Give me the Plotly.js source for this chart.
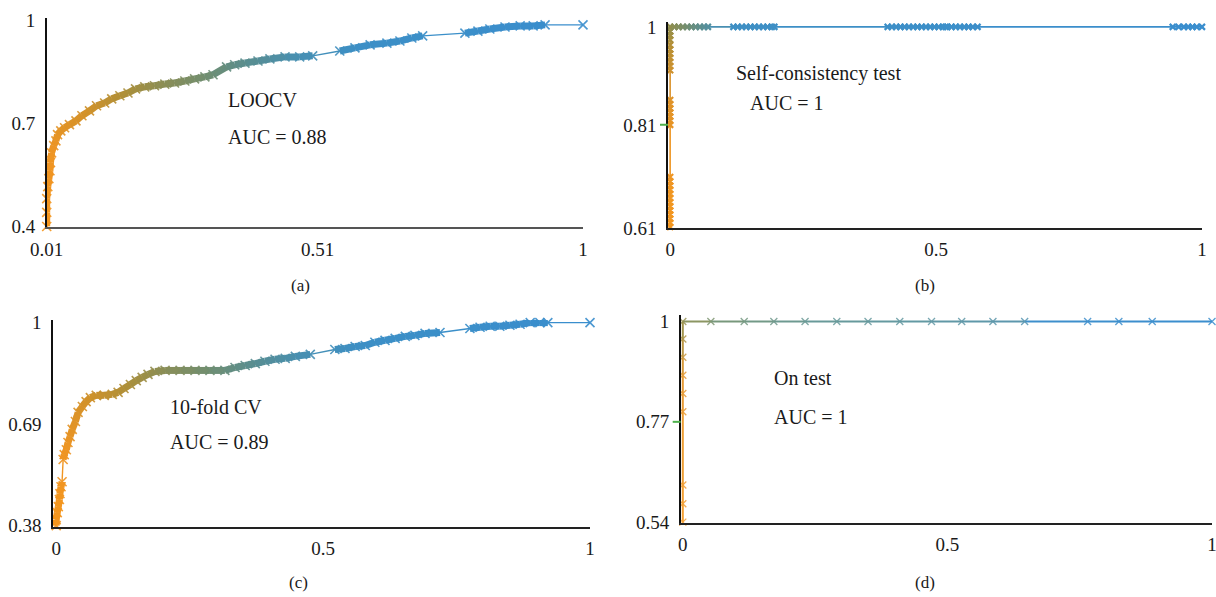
<!DOCTYPE html>
<html><head><meta charset="utf-8">
<script src="https://cdn.plot.ly/plotly-3.0.1.min.js"></script>
<style>html,body{margin:0;padding:0;background:#fff}#chart{width:1216px;height:597px}</style>
</head><body><div id="chart"></div>
<script>
// ---------- DATA ----------
// (a) LOOCV
const aFPR = [0.010,0.010,0.010,0.012,0.014,0.016,0.017,0.019,0.023,0.027,0.030,0.036,0.043,0.052,0.064,0.075,0.089,0.102,0.117,0.130,0.145,0.160,0.174,0.191,0.209,0.228,0.246,0.265,0.283,0.302,0.317,0.342,0.357,0.376,0.400,0.422,0.450,0.477,0.501,0.551,0.579,0.607,0.638,0.662,0.684,0.704,0.782,0.806,0.828,0.856,0.884,0.908,0.930,1.000];
const aTPR = [0.400,0.441,0.481,0.516,0.539,0.562,0.586,0.614,0.635,0.649,0.667,0.678,0.687,0.696,0.707,0.722,0.736,0.751,0.759,0.771,0.780,0.788,0.800,0.806,0.809,0.814,0.817,0.823,0.829,0.835,0.841,0.864,0.870,0.875,0.881,0.887,0.893,0.893,0.896,0.910,0.919,0.928,0.933,0.939,0.948,0.954,0.962,0.968,0.974,0.980,0.983,0.983,0.986,0.986];
// (b) Self-consistency test
const bFPR = [0,0,0,0,0,0,0,0,0,0,0,0,0, 0,0,0,0,0,0,0, 0,0,0,0,0,0,0, 0,0,0,0,
  0.008,0.016,0.024,0.032,0.040,0.048,0.056,0.064,0.071,
  0.119,0.127,0.135,0.143,0.151,0.159,0.167,0.175,0.183,0.191,0.196,
  0.409,0.417,0.425,0.433,0.441,0.449,0.457,0.465,0.473,0.481,0.489,0.497,0.505,0.513,0.518,0.521,0.529,0.537,0.545,0.553,0.561,0.569,0.578,
  0.945,0.956,0.966,0.974,0.982,0.990,1.000];
const bTPR = [0.612,0.620,0.628,0.636,0.644,0.652,0.660,0.668,0.676,0.684,0.692,0.700,0.709,
  0.810,0.818,0.826,0.834,0.842,0.850,0.858,
  0.916,0.924,0.932,0.940,0.948,0.956,0.965,
  0.975,0.983,0.991,1.000,
  1,1,1,1,1,1,1,1,1,
  1,1,1,1,1,1,1,1,1,1,1,
  1,1,1,1,1,1,1,1,1,1,1,1,1,1,1,1,1,1,1,1,1,1,1,
  1,1,1,1,1,1,1];
// (c) 10-fold CV
const cFPR = [0,0,0.002,0.004,0.006,0.007,0.009,0.011,0.013,0.015,0.019,0.022,0.026,0.030,0.036,0.041,0.049,0.056,0.064,0.075,0.090,0.105,0.116,0.127,0.139,0.150,0.161,0.172,0.185,0.204,0.232,0.260,0.288,0.316,0.335,0.354,0.373,0.391,0.410,0.429,0.448,0.476,0.522,0.541,0.560,0.579,0.597,0.616,0.635,0.654,0.672,0.691,0.719,0.775,0.794,0.813,0.831,0.850,0.869,0.888,0.906,0.921,1.000];
const cTPR = [0.380,0.398,0.420,0.438,0.460,0.478,0.499,0.514,0.582,0.597,0.612,0.634,0.652,0.674,0.698,0.726,0.744,0.759,0.771,0.778,0.778,0.781,0.787,0.799,0.811,0.823,0.833,0.842,0.851,0.854,0.854,0.854,0.854,0.854,0.863,0.869,0.875,0.882,0.888,0.891,0.897,0.903,0.918,0.921,0.927,0.930,0.940,0.946,0.952,0.958,0.961,0.967,0.970,0.982,0.986,0.989,0.989,0.992,0.995,1.000,1.000,1.000,1.000];
// (d) On test
const dFPR = [0,0,0,0,0,0,0,0,0,0.053,0.116,0.172,0.231,0.291,0.350,0.410,0.470,0.527,0.586,0.646,0.765,0.824,0.887,1.000];
const dTPR = [0.540,0.582,0.625,0.793,0.835,0.877,0.918,0.960,1.000,1,1,1,1,1,1,1,1,1,1,1,1,1,1,1];

const aTicksX = [0.01,0.51,1], aTicksY = [0.4,0.7,1];
const bTicksX = [0,0.5,1], bTicksY = [0.61,0.81,1];
const cTicksX = [0,0.5,1], cTicksY = [0.38,0.69,1];
const dTicksX = [0,0.5,1], dTicksY = [0.54,0.77,1];
const bMarkTick = [0.81], dMarkTick = [0.77];

const panelTexts = {
  a: ["LOOCV", "AUC = 0.88"],
  b: ["Self-consistency test", "AUC = 1"],
  c: ["10-fold CV", "AUC = 0.89"],
  d: ["On test", "AUC = 1"]
};
const captions = ["(a)", "(b)", "(c)", "(d)"];

// ---------- STYLE / LAYOUT ----------
const W = 1216, H = 597;
const FONT = "'Liberation Serif', 'Times New Roman', serif";
const panels = {
  a: {x:[46.7,583], y:[18,226.5], xr:[0.01,1], yr:[0.4,1.006]},
  b: {x:[668,1202], y:[21.7,228], xr:[-0.004,1], yr:[0.61,1.01]},
  c: {x:[53,590], y:[320,527], xr:[-0.006,1], yr:[0.376,1.008]},
  d: {x:[680.7,1212], y:[315,523], xr:[-0.004,1], yr:[0.538,1.015]}
};
const acScale = [[0,'#F5961E'],[0.12,'#EE9524'],[0.2,'#D4922A'],[0.27,'#AE903A'],[0.33,'#8C8E55'],[0.4,'#718E70'],[0.47,'#5A8E90'],[0.55,'#478FB2'],[0.65,'#3C8FC6'],[1,'#3A8ECE']];
const bScale = [[0,'#F3961F'],[0.12,'#EC9524'],[0.2,'#D9922A'],[0.25,'#B48F35'],[0.275,'#8F8E4E'],[0.3,'#6E8E76'],[0.33,'#4F8FA5'],[0.36,'#3E8FC4'],[1,'#3A8ECE']];
const dScale = [[0,'#F5A033'],[0.2,'#E59A35'],[0.27,'#9C9450'],[0.32,'#7A9878'],[0.45,'#6A9A98'],[0.74,'#5C97AE'],[0.76,'#3F8FCC'],[1,'#3A8ECE']];

function hex2rgb(h){return [parseInt(h.slice(1,3),16),parseInt(h.slice(3,5),16),parseInt(h.slice(5,7),16)];}
function colorAt(scale,t){
  t=Math.max(0,Math.min(1,t));
  for(let i=1;i<scale.length;i++){
    if(t<=scale[i][0]){
      const [t0,c0]=scale[i-1],[t1,c1]=scale[i];
      const f=(t-t0)/((t1-t0)||1);
      const a=hex2rgb(c0),b=hex2rgb(c1);
      return 'rgb('+a.map((v,k)=>Math.round(v+(b[k]-v)*f)).join(',')+')';
    }
  }
  return scale[scale.length-1][1];
}

const layout = {
  width: W, height: H,
  margin: {l:0,r:0,t:0,b:0},
  paper_bgcolor: '#fff', plot_bgcolor: 'rgba(0,0,0,0)',
  showlegend: false,
  annotations: [], shapes: [],
  font: {family: FONT, color: '#1a1a1a'}
};
const traces = [];
const keys = ['a','b','c','d'];
const ticks = {a:[aTicksX,aTicksY], b:[bTicksX,bTicksY], c:[cTicksX,cTicksY], d:[dTicksX,dTicksY]};
const data = {a:[aFPR,aTPR], b:[bFPR,bTPR], c:[cFPR,cTPR], d:[dFPR,dTPR]};
const styles = {
  a:{scale:acScale, thick:7, thin:1.4, msize:9, mwidth:1.6, mop:0.9},
  b:{scale:bScale, thick:1.6, thin:1.6, msize:6, mwidth:2.2, mop:1},
  c:{scale:acScale, thick:7, thin:1.4, msize:9, mwidth:1.6, mop:0.9},
  d:{scale:dScale, thick:2, thin:2, msize:7, mwidth:1.3, mop:0.85}
};

keys.forEach((k,i)=>{
  const p = panels[k], n = i===0?'':String(i+1);
  const xa = 'xaxis'+n, ya = 'yaxis'+n;
  const xw = p.x[1]-p.x[0], yh = p.y[1]-p.y[0];
  const common = {showgrid:false, zeroline:false, showline:true, ticks:'', fixedrange:true,
    tickfont:{family:FONT,size:19,color:'#1a1a1a'}, tickmode:'array', layer:'above traces', ticklabeloverflow:'allow'};
  layout[xa] = Object.assign({}, common, {domain:[p.x[0]/W, p.x[1]/W], range:p.xr, anchor:'y'+n,
    tickvals:ticks[k][0], ticktext:ticks[k][0].map(String), linecolor: k==='a'?'#555':'#222', linewidth: k==='a'?2.2:1.6, ticklabelstandoff:4});
  layout[ya] = Object.assign({}, common, {domain:[1-p.y[1]/H, 1-p.y[0]/H], range:p.yr, anchor:'x'+n,
    tickvals:ticks[k][1], ticktext:ticks[k][1].map(String), linecolor:'#111', linewidth:1.6, ticklabelstandoff:6});

  // arc-length parameter in pixels for colouring
  const [X,Y] = data[k];
  const sx = xw/(p.xr[1]-p.xr[0]), sy = yh/(p.yr[1]-p.yr[0]);
  const arc=[0];
  for(let j=1;j<X.length;j++){
    arc.push(arc[j-1]+Math.hypot((X[j]-X[j-1])*sx,(Y[j]-Y[j-1])*sy));
  }
  const L = arc[arc.length-1];
  const st = styles[k];
  const cols = arc.map(a=>colorAt(st.scale,a/L));
  for(let j=1;j<X.length;j++){
    const seg = arc[j]-arc[j-1];
    traces.push({type:'scatter', mode:'lines', x:[X[j-1],X[j]], y:[Y[j-1],Y[j]], xaxis:'x'+n, yaxis:'y'+n,
      line:{color:colorAt(st.scale,(arc[j]+arc[j-1])/2/L), width: seg>20?st.thin:st.thick}, hoverinfo:'skip', cliponaxis:false});
  }
  traces.push({type:'scatter', mode:'markers', x:X, y:Y, xaxis:'x'+n, yaxis:'y'+n, cliponaxis:false,
    marker:{symbol:'x-thin', size:st.msize, opacity:st.mop, line:{width:st.mwidth, color:cols}}, hoverinfo:'skip'});
});

// small green marks on the y axes of (b) and (d)
bMarkTick.forEach(v=>layout.shapes.push({type:'line', xref:'paper', yref:'y2', x0:(668-8)/W, x1:668/W, y0:v, y1:v, line:{color:'#4DB04A', width:2}}));
dMarkTick.forEach(v=>layout.shapes.push({type:'line', xref:'paper', yref:'y4', x0:(680.7-8)/W, x1:680.7/W, y0:v, y1:v, line:{color:'#4DB04A', width:2}}));

// text labels
const textPos = {a:[[226,100],[226,137]], b:[[734,73],[748,103]], c:[[168,407],[168,442]], d:[[772,378],[772,417]]};
keys.forEach(k=>{
  panelTexts[k].forEach((t,j)=>{
    const [px,py] = textPos[k][j];
    layout.annotations.push({xref:'paper', yref:'paper', x:px/W, y:1-py/H, xanchor:'left', yanchor:'middle',
      text:t, showarrow:false, font:{family:FONT, size:20, color:'#1a1a1a'}});
  });
});
const capPos = [[300,285],[925,285],[298,582],[925,582]];
captions.forEach((c,j)=>{
  layout.annotations.push({xref:'paper', yref:'paper', x:capPos[j][0]/W, y:1-capPos[j][1]/H, xanchor:'center', yanchor:'middle',
    text:c, showarrow:false, font:{family:FONT, size:17, color:'#1a1a1a'}});
});

Plotly.newPlot('chart', traces, layout, {staticPlot:true, displayModeBar:false});
</script>
</body></html>
